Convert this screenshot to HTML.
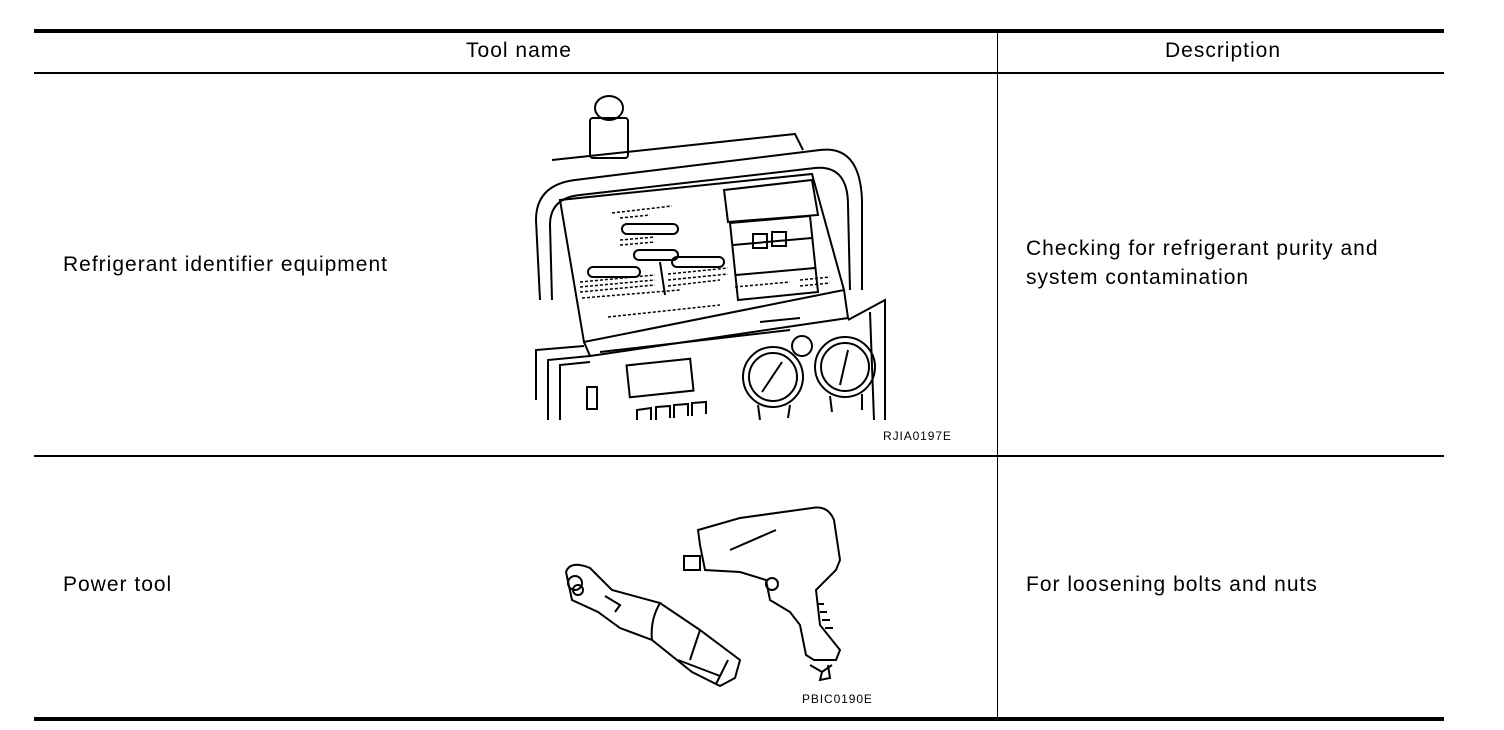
<!DOCTYPE html>
<html><head><meta charset="utf-8"><style>
html,body{margin:0;padding:0;background:#fff;}
svg{display:block;}
text{font-family:"Liberation Sans",Arial,sans-serif;fill:#000;}
.t{letter-spacing:1px;font-size:21px;}
.s{letter-spacing:0.9px;}
</style></head><body>
<svg width="1504" height="730" viewBox="0 0 1504 730" xmlns="http://www.w3.org/2000/svg">
<rect x="34" y="29" width="1410" height="4" fill="#000"/>
<rect x="34" y="72" width="1410" height="2" fill="#000"/>
<rect x="34" y="455" width="1410" height="2" fill="#000"/>
<rect x="34" y="717" width="1410" height="4" fill="#000"/>
<rect x="997" y="31" width="1" height="688" fill="#000"/>
<text class="t" x="519" y="57" text-anchor="middle">Tool name</text>
<text class="t" x="1223" y="57" text-anchor="middle">Description</text>
<text class="t" x="63" y="271">Refrigerant identifier equipment</text>
<text class="t" x="1026" y="255">Checking for refrigerant purity and</text>
<text class="t" x="1026" y="284">system contamination</text>
<text class="t" x="63" y="591">Power tool</text>
<text class="t" x="1026" y="591">For loosening bolts and nuts</text>
<text class="s" x="883" y="440" font-size="12">RJIA0197E</text>
<text class="s" x="802" y="703" font-size="12">PBIC0190E</text>

<g fill="none" stroke="#000" stroke-width="2">
 <rect x="590" y="118" width="38" height="40" rx="3"/>
 <ellipse cx="609" cy="108" rx="14" ry="12"/>
 <path d="M552 160 L795 134 L803 150"/>
 <path d="M540 300 L536 220 Q536 185 575 180 L820 150 Q860 145 862 200 L862 290"/>
 <path d="M552 300 L550 225 Q550 198 580 195 L815 168 Q848 165 848 205 L850 290"/>
 <path d="M560 200 L812 174 L844 290 L584 342 Z"/>
 <path d="M584 342 L590 356 L848 318 L844 290"/>
 <path d="M724 190 L812 180 L818 215 L728 222 Z"/>
 <path d="M730 223 L810 216 L818 292 L738 300 Z"/>
 <path d="M733 245 L812 238"/><path d="M736 275 L815 268"/>
 <rect x="753" y="234" width="14" height="14"/><rect x="772" y="232" width="14" height="14"/>
 <rect x="622" y="224" width="56" height="10" rx="5"/>
 <rect x="634" y="250" width="44" height="10" rx="5"/>
 <rect x="672" y="257" width="52" height="10" rx="5"/>
 <rect x="588" y="267" width="52" height="10" rx="5"/>
 <path d="M660 262 L665 295"/>
 <path d="M536 400 L536 350 L584 346"/>
 <path d="M848 320 L885 300 L885 420"/>
 <path d="M548 420 L548 360 L590 356"/>
 <path d="M560 420 L560 365 L590 362"/>
 <path d="M870 312 L874 420"/>
 <rect x="628" y="362" width="64" height="32" transform="rotate(-6 660 378)"/>
 <rect x="587" y="387" width="10" height="22"/>
 <path d="M637 420 L637 410 L651 408 L651 420 M656 420 L656 407 L670 406 L670 418 M674 418 L674 405 L688 404 L688 416 M692 416 L692 403 L706 402 L706 414"/>
 <circle cx="773" cy="377" r="30"/><circle cx="773" cy="377" r="24"/>
 <circle cx="845" cy="367" r="30"/><circle cx="845" cy="367" r="24"/>
 <circle cx="802" cy="346" r="10"/>
 <path d="M762 392 L782 362 M840 385 L848 350"/>
 <path d="M758 405 L760 420 M790 405 L788 418 M830 396 L832 412 M862 394 L862 410"/>
 <path d="M600 352 L790 330"/>
 <path d="M760 322 L800 318"/>
</g>
<g stroke="#000" stroke-width="1.5" stroke-dasharray="3 2">
 <path d="M612 213 L672 206"/><path d="M620 218 L650 215"/>
 <path d="M620 240 L655 237 M620 245 L655 242"/>
 <path d="M580 282 L655 275 M580 287 L655 280 M580 292 L655 285 M582 298 L680 290"/>
 <path d="M668 274 L728 268 M668 280 L728 274 M668 286 L720 280"/>
 <path d="M608 317 L720 305"/>
 <path d="M735 287 L790 282 M800 280 L830 277 M800 286 L830 283"/>
</g>

<g fill="none" stroke="#000" stroke-width="2">
 <path d="M566 572 Q570 560 590 568 L612 590 L660 603 L700 630 L740 660 L735 678 L720 686 L692 672 L652 640 L620 628 L598 612 L572 600 Z"/>
 <circle cx="575" cy="583" r="7"/><circle cx="578" cy="590" r="5"/>
 <path d="M660 603 Q650 620 652 640 M700 630 L690 660 M728 660 L716 684 M678 660 L720 676"/>
 <path d="M605 596 L620 605 L615 612"/>
</g>
<g fill="none" stroke="#000" stroke-width="2">
 <path d="M700 545 L698 530 L740 518 L812 508 Q828 505 834 520 L840 560 L836 570 L816 590 L820 625 L840 650 L836 660 L814 660 L806 655 L800 625 L790 612 L770 600 L766 580 L740 572 L705 570 Z"/>
 <rect x="684" y="556" width="16" height="14"/>
 <circle cx="772" cy="584" r="6"/>
 <path d="M810 665 L822 672 L832 665 M822 672 L820 680 L830 678 L828 665"/>
 <path d="M730 550 L776 530 M818 604 L824 604 M820 612 L827 612 M822 620 L830 620 M825 628 L833 628"/>
</g>
</svg>
</body></html>
